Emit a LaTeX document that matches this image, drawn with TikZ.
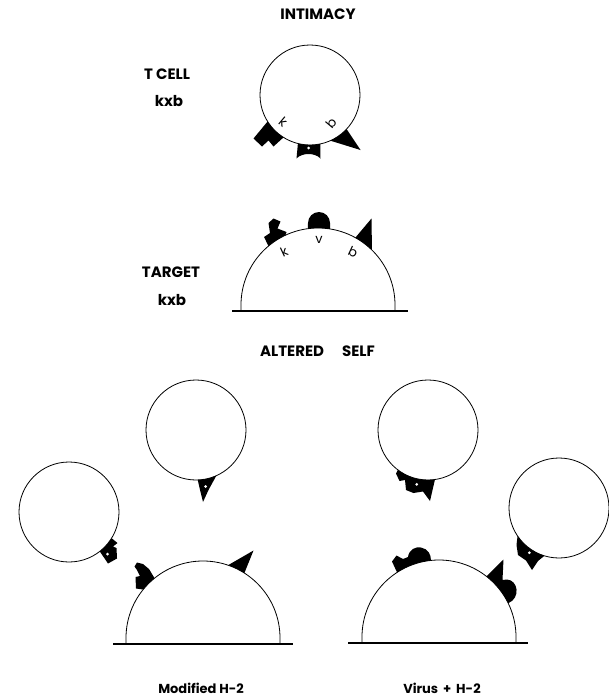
\documentclass[tikz,border=0pt]{standalone}
\usepackage{fontspec}
\setmainfont{Poppins}
\usetikzlibrary{calc}
\begin{document}
\begin{tikzpicture}[x=1pt,y=-1pt,
  cell/.style={circle,draw,line width=0.8pt,minimum size=100pt,inner sep=0pt},
  membrane/.style={line width=0.8pt},
  ground/.style={line width=2.2pt},
  head/.style={font=\fontsize{15}{15}\selectfont\bfseries},
  caption/.style={font=\fontsize{13}{13}\selectfont\bfseries,inner sep=0pt},
  site/.style={font=\fontsize{13}{13}\selectfont,inner sep=0pt},
  hole/.style={fill=white,circle,inner sep=0pt,minimum size=3pt}]
\useasboundingbox (0,0) rectangle (609,699);

% ---------- headings and labels ----------
\node[head] (intimacy) at (318,14) {INTIMACY};
\node[head] (tcl) at (167,74) {T CELL};
\node[head] (tck) at (169,101) {kxb};
\node[head] (tgl) at (171,272.5) {TARGET};
\node[head] (tgk) at (172,300) {kxb};
\node[head] (alt) at (317.5,351) {ALTERED\hspace{18pt}SELF};
\node[caption] (mod) at (201,688) {Modified H-2};
\node[caption] (vir) at (442,688) {Virus \,+\, H-2};

% ---------- T cell ----------
\node[cell] (tcell) at (310,95) {};
\fill ($(tcell.center)+(212:50pt)$) -- (253.5,138.5) -- (262,146.5) -- (268.5,140.5) -- (273.5,146.5)
  -- ($(tcell.center)+(238:50pt)$) arc[start angle=238,end angle=212,radius=50pt] -- cycle;
\fill ($(tcell.center)+(256:50pt)$) -- (296.5,158.5) .. controls (302,152.5) and (315,152.5) .. (320.5,158.5)
  -- ($(tcell.center)+(282:50pt)$) arc[start angle=282,end angle=256,radius=50pt] -- cycle;
\fill ($(tcell.center)+(294:50pt)$) -- (360.5,150)
  -- ($(tcell.center)+(317:50pt)$) arc[start angle=317,end angle=294,radius=50pt] -- cycle;
\node[hole] (tdot) at (308.5,148) {};
\node[site,rotate=-40] (tk) at (283.3,121.7) {k};
\node[site,rotate=50] (tb) at (331,123.5) {b};

% ---------- target cell ----------
\coordinate (tg) at (318,305);
\draw[membrane] (241,311) -- (241,305) arc[start angle=180,end angle=0,radius=77pt] -- (395,311);
\draw[ground] (232,311) -- (408,311);
\fill ($(tg)+(130:77pt)$) -- (264,237) -- (270,233) -- (268.5,223) -- (273.5,218.5) -- (280.5,221.5)
  -- (277.5,228.5) -- (286.5,232)
  -- ($(tg)+(115:77pt)$) arc[start angle=115,end angle=130,radius=77pt] -- cycle;
\fill ($(tg)+(97.5:77pt)$) -- (308,223) arc[start angle=180,end angle=0,radius=11pt]
  -- ($(tg)+(81:77pt)$) arc[start angle=81,end angle=97.5,radius=77pt] -- cycle;
\fill ($(tg)+(61:77pt)$) -- (371.5,218.5)
  -- ($(tg)+(45.5:77pt)$) arc[start angle=45.5,end angle=61,radius=77pt] -- cycle;
\node[site,rotate=25] (gk) at (284,251.5) {k};
\node[site] (gv) at (319,240) {v};
\node[site,rotate=-25] (gb) at (353,252.5) {b};

% ---------- modified H-2 ----------
\node[cell] (c3) at (196,430) {};
\fill ($(c3.center)+(272:50pt)$) -- (200.5,492) -- (203,502) -- (208.5,490)
  -- ($(c3.center)+(294:50pt)$) arc[start angle=294,end angle=272,radius=50pt] -- cycle;
\node[hole] (d3) at (205.7,486.5) {};

\node[cell] (c4) at (69,512) {};
\fill ($(c4.center)+(308:50pt)$) -- (108,563.5) -- (117,558.5) -- (116.5,548) -- (113,546.5)
  -- (117.5,543) -- (112,538.5)
  -- ($(c4.center)+(326:50pt)$) arc[start angle=326,end angle=308,radius=50pt] -- cycle;
\node[hole] (d4) at (107.5,554) {};

\coordinate (c5) at (203,638);
\draw[membrane] (126,644) -- (126,638) arc[start angle=180,end angle=0,radius=77pt] -- (280,644);
\draw[ground] (113,644) -- (293,644);
\fill ($(c5)+(141:77pt)$) -- (136,588.5) -- (135.5,577) -- (140,576) -- (137,570) -- (134.5,566.5)
  -- (137,562.5) -- (143,564) -- (149,569)
  -- ($(c5)+(129:77pt)$) arc[start angle=129,end angle=141,radius=77pt] -- cycle;
\fill ($(c5)+(71:77pt)$) -- (253.5,550.5)
  -- ($(c5)+(57.5:77pt)$) arc[start angle=57.5,end angle=71,radius=77pt] -- cycle;

% ---------- virus + H-2 ----------
\node[cell] (c6) at (428,430) {};
\fill ($(c6.center)+(233:50pt)$) -- (396,473.5) -- (399.5,481) -- (405,480) -- (406,490) -- (413.5,493)
  -- (423,491.5) -- (430,501)
  -- ($(c6.center)+(278:50pt)$) arc[start angle=278,end angle=233,radius=50pt] -- cycle;
\node[hole] (d6) at (416.7,484.3) {};

\node[cell] (c7) at (559,508) {};
\fill ($(c7.center)+(214:50pt)$) -- (516.5,545) -- (518,555) -- (526,560.5) -- (532,570) -- (538,561)
  -- ($(c7.center)+(253:50pt)$) arc[start angle=253,end angle=214,radius=50pt] -- cycle;
\node[hole] (d7) at (529.3,552.7) {};

\coordinate (c8) at (439,637);
\draw[membrane] (362,643) -- (362,637) arc[start angle=180,end angle=0,radius=77pt] -- (516,643);
\draw[ground] (348,643) -- (528,643);
\fill ($(c8)+(123:77pt)$) -- (392,561.5) -- (396.5,555.5) -- (403,559)
  -- (408,557) .. controls (409,549) and (416,546.5) .. (421,547.5)
  .. controls (428,549) and (431,554) .. ($(c8)+(96:77pt)$)
  arc[start angle=96,end angle=123,radius=77pt] -- cycle;
\fill ($(c8)+(52:77pt)$) -- (503.5,559.5) -- (502.5,580)
  -- (507,579.5) .. controls (518,580) and (521,598) .. ($(c8)+(26:77pt)$)
  arc[start angle=26,end angle=52,radius=77pt] -- cycle;
\end{tikzpicture}
\end{document}
